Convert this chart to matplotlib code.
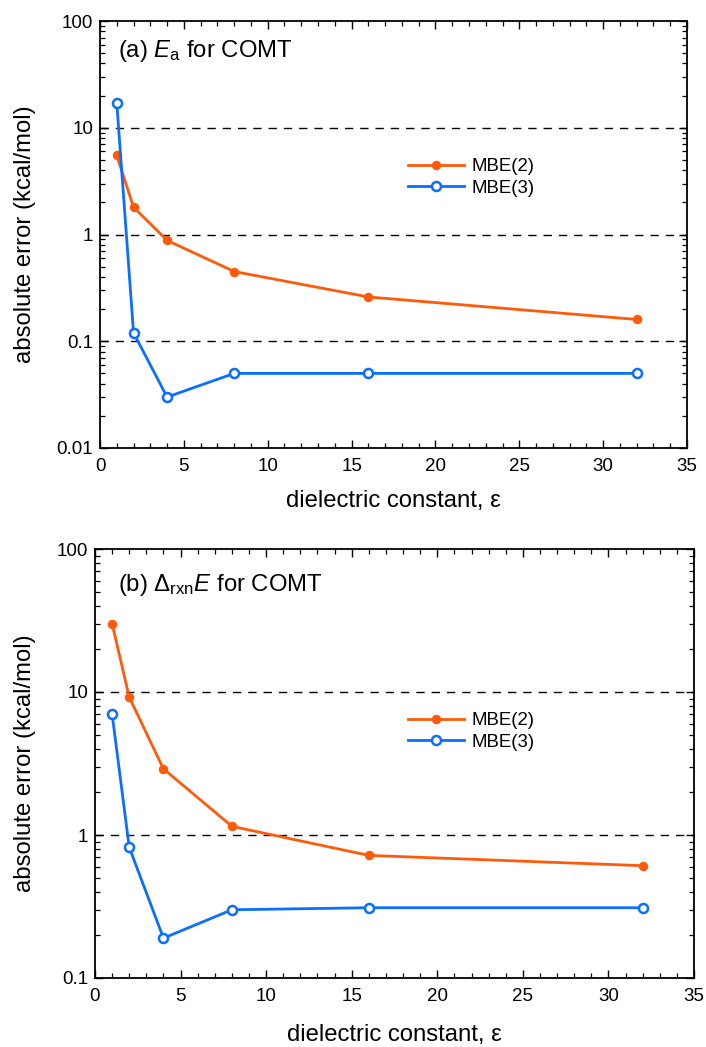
import numpy as np
import matplotlib
matplotlib.use('Agg')
import matplotlib.pyplot as plt
from matplotlib.ticker import LogLocator, MultipleLocator, FixedLocator, NullFormatter

plt.rcParams['font.family'] = ['Liberation Sans', 'DejaVu Sans']
plt.rcParams['mathtext.fontset'] = 'custom'
plt.rcParams['mathtext.rm'] = 'Liberation Sans'
plt.rcParams['mathtext.it'] = 'Liberation Sans:italic'

eps = [1, 2, 4, 8, 16, 32]

# (a) Ea for COMT
ea_mbe2 = [5.5, 1.8, 0.88, 0.45, 0.26, 0.16]
ea_mbe3 = [17.0, 0.12, 0.03, 0.05, 0.05, 0.05]

# (b) Delta_rxn E for COMT
rxn_mbe2 = [30.0, 9.2, 2.9, 1.15, 0.72, 0.61]
rxn_mbe3 = [7.0, 0.82, 0.19, 0.30, 0.31, 0.31]

orange = '#ff5a0a'
blue = '#0a6eff'

W, H = 706, 1047
fig = plt.figure(figsize=(W / 100, H / 100), dpi=100)


def box(l, r, t, b):
    return [l / W, 1 - b / H, (r - l) / W, (b - t) / H]


# axes box (px), data, y range, title, grid lines, title baseline, legend top, xlabel baseline
panels = [
    ((100, 687, 21, 448), ea_mbe2, ea_mbe3, (0.01, 100),
     '(a) $\\mathit{E}_{\\mathrm{a}}$ for COMT', [10, 1, 0.1], 57, 158, 507),
    ((95, 694, 549, 978), rxn_mbe2, rxn_mbe3, (0.1, 100),
     '(b) $\\Delta_{\\mathrm{rxn}}\\mathit{E}$ for COMT', [10, 1], 591, 712, 1041),
]

for (l, r, t, b), y2, y3, ylim, title, grid, title_y, leg_y, xlab_y in panels:
    ax = fig.add_axes(box(l, r, t, b))
    for g in grid:
        ax.axhline(g, color='black', lw=1.0, ls=(0, (6, 5)), zorder=1)
    ax.plot(eps, y2, '-o', color=orange, lw=2.0, ms=5.8, label='MBE(2)', zorder=3)
    ax.plot(eps, y3, '-o', color=blue, lw=2.0, ms=6.5, mfc='white', mew=1.8,
            label='MBE(3)', zorder=3)
    ax.set_yscale('log')
    ax.set_xlim(0, 35)
    ax.set_ylim(*ylim)
    ax.xaxis.set_major_locator(MultipleLocator(5))
    ax.xaxis.set_minor_locator(MultipleLocator(1))
    ax.yaxis.set_minor_locator(LogLocator(base=10, subs=np.arange(2, 10), numticks=20))
    ax.yaxis.set_minor_formatter(NullFormatter())
    ticks = [v for v in [0.01, 0.1, 1, 10, 100] if ylim[0] <= v <= ylim[1]]
    ax.yaxis.set_major_locator(FixedLocator(ticks))
    ax.set_yticklabels(['%g' % v for v in ticks])
    ax.tick_params(which='both', direction='in', top=True, right=True, labelsize=13.5)
    ax.tick_params(which='major', length=6, width=1.0)
    ax.tick_params(which='minor', length=3.5, width=0.9)
    ax.tick_params(axis='x', which='major', pad=7)
    ax.tick_params(axis='y', which='major', pad=5)
    for s in ax.spines.values():
        s.set_linewidth(1.3)
    fig.text(118 / W, 1 - title_y / H, title, fontsize=17.2, va='baseline', ha='left')
    ax.legend(loc='upper left', bbox_to_anchor=(408 / W, 1 - leg_y / H),
              bbox_transform=fig.transFigure, frameon=False, fontsize=13.4,
              handlelength=3.0, handletextpad=0.4, labelspacing=0.25,
              borderaxespad=0, borderpad=0)
    fig.text(25 / W, 1 - (t + b) / 2 / H, 'absolute error (kcal/mol)', fontsize=17.2,
             rotation=90, ha='center', va='center')
    fig.text((l + r) / 2 / W, 1 - xlab_y / H, 'dielectric constant, ε',
             fontsize=17.2, ha='center', va='baseline')

fig.savefig('out.png', dpi=100)
